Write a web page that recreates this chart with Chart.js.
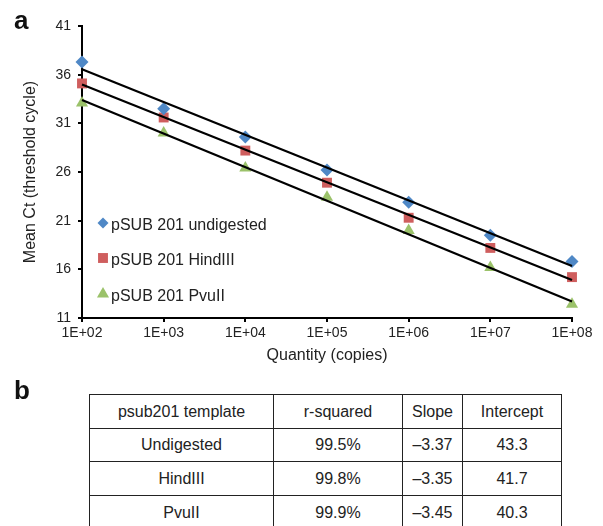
<!DOCTYPE html>
<html>
<head>
<meta charset="utf-8">
<script src="https://cdn.jsdelivr.net/npm/chart.js@4.4.1/dist/chart.umd.min.js"></script>
<style>
  html, body { margin:0; padding:0; background:#fff; width:603px; height:526px; overflow:hidden; font-family:"Liberation Sans", Arial, Helvetica, sans-serif; color:#222; }
  #wrap { position:absolute; left:0; top:0; width:603px; height:370px; }
  .panel { position:absolute; font-weight:bold; font-size:26px; color:#111; line-height:1; }
  #lblA { left:14px; top:7px; }
  #lblB { left:14px; top:377px; }
  table { position:absolute; left:89px; top:394px; border-collapse:collapse; font-size:16px; color:#222; }
  td { border:1px solid #222; text-align:center; vertical-align:middle; padding:0; height:33px; }
</style>
</head>
<body>
<div id="wrap"><canvas id="c"></canvas></div>
<div class="panel" id="lblA">a</div>
<div class="panel" id="lblB">b</div>
<table id="tbl"></table>
<script>
// ---- data ----
const xValues = [1e2, 1e3, 1e4, 1e5, 1e6, 1e7, 1e8];
const xTickLabels = ['1E+02', '1E+03', '1E+04', '1E+05', '1E+06', '1E+07', '1E+08'];
const undigested = [37.3, 32.5, 29.6, 26.2, 22.9, 19.5, 16.8];
const hindIII    = [35.1, 31.6, 28.2, 24.9, 21.3, 18.2, 15.2];
const pvuII      = [33.1, 30.0, 26.4, 23.4, 20.0, 16.2, 12.4];
const trendX = [1e2, 1e8];
const trendUndigested = [36.56, 16.35];
const trendHindIII    = [35.0, 14.9];
const trendPvuII      = [33.4, 12.7];
const seriesNames = ['pSUB 201 undigested', 'pSUB 201 HindIII', 'pSUB 201 PvuII'];
const yTicks = [11, 16, 21, 26, 31, 36, 41];
const tableHeader = ['psub201 template', 'r-squared', 'Slope', 'Intercept'];
const tableTemplates = ['Undigested', 'HindIII', 'PvuII'];
const tableRSquared = ['99.5%', '99.8%', '99.9%'];
const tableSlope = ['\u20133.37', '\u20133.35', '\u20133.45'];
const tableIntercept = ['43.3', '41.7', '40.3'];

// ---- table ----
const colWidths = [184, 129, 60, 99];
const rowHeights = [33, 32, 33, 33];
const tbl = document.getElementById('tbl');
function addRow(cells, h) {
  const tr = document.createElement('tr');
  cells.forEach((t, i) => {
    const td = document.createElement('td');
    td.textContent = t;
    td.style.width = (colWidths[i] - 1) + 'px';
    td.style.height = h + 'px';
    tr.appendChild(td);
  });
  tbl.appendChild(tr);
}
addRow(tableHeader, rowHeights[0]);
tableTemplates.forEach((t, i) => addRow([t, tableRSquared[i], tableSlope[i], tableIntercept[i]], rowHeights[i + 1]));

// ---- chart ----
const FONT = '"Liberation Sans", Arial, sans-serif';
const colors = ['#4F88C6', '#CF5E5E', '#9BC26A'];
const styles = ['rectRot', 'rect', 'triangle'];
const radii = [6.5, 7, 7];
const toPts = (ys) => ys.map((y, i) => ({x: xValues[i], y: y}));
const toTrend = (ys) => ys.map((y, i) => ({x: trendX[i], y: y}));

const datasets = [];
[undigested, hindIII, pvuII].forEach((s, k) => {
  datasets.push({
    label: seriesNames[k], type: 'scatter', data: toPts(s),
    backgroundColor: colors[k], borderColor: colors[k], borderWidth: 0,
    pointStyle: styles[k], pointRadius: radii[k], pointHoverRadius: radii[k],
    order: 2, clip: false
  });
});
[trendUndigested, trendHindIII, trendPvuII].forEach((s, k) => {
  datasets.push({
    label: 'trend' + k, type: 'line', data: toTrend(s),
    borderColor: '#000', borderWidth: 2.2, pointRadius: 0, fill: false,
    order: 1, clip: false, isTrend: true
  });
});

const legendPlugin = {
  id: 'insideLegend',
  afterDatasetsDraw(chart) {
    const ctx = chart.ctx;
    const a = chart.chartArea;
    const rows = [199, 234, 270];
    ctx.save();
    ctx.font = '16px ' + FONT;
    ctx.textBaseline = 'middle';
    ctx.textAlign = 'left';
    chart.data.datasets.forEach((ds, k) => {
      if (ds.isTrend) return;
      const y = a.top + rows[k];
      ctx.fillStyle = ds.backgroundColor;
      const r = k === 0 ? 5.5 : 7;
      Chart.helpers.drawPoint(ctx, {pointStyle: ds.pointStyle, radius: r, rotation: 0, borderWidth: 0}, a.left + 21, y - 2);
      ctx.fillStyle = '#222';
      ctx.fillText(ds.label, a.left + 29, y + 1);
    });
    ctx.restore();
  }
};

new Chart(document.getElementById('c'), {
  type: 'scatter',
  data: { datasets },
  plugins: [legendPlugin],
  options: {
    responsive: true, maintainAspectRatio: false, animation: false,
    layout: { padding: { left: 0, top: 26, right: 31, bottom: 0 } },
    plugins: { legend: { display: false }, tooltip: { enabled: false } },
    scales: {
      x: {
        type: 'logarithmic', min: 1e2, max: 1e8,
        afterBuildTicks: (sc) => { sc.ticks = xValues.map(v => ({value: v, major: true})); },
        afterFit: (sc) => { sc.height = 52; },
        ticks: {
          autoSkip: false, maxRotation: 0, padding: 3, color: '#222',
          font: { family: FONT, size: 14 },
          callback: (v) => { const i = xValues.indexOf(v); return i >= 0 ? xTickLabels[i] : ''; }
        },
        grid: { drawOnChartArea: false, drawTicks: true, tickLength: 4, color: '#000', lineWidth: 2 },
        border: { color: '#000', width: 2 },
        title: { display: true, text: 'Quantity (copies)', color: '#222', padding: { top: 0, bottom: 5 },
                 font: { family: FONT, size: 16 } }
      },
      y: {
        min: 11, max: 41,
        afterBuildTicks: (sc) => { sc.ticks = yTicks.map(v => ({value: v})); },
        afterFit: (sc) => { sc.width = 82; },
        ticks: { stepSize: 5, padding: 7, color: '#222',
                 font: { family: FONT, size: 14 } },
        grid: { drawOnChartArea: false, drawTicks: true, tickLength: 4, color: '#000', lineWidth: 2 },
        border: { color: '#000', width: 2 },
        title: { display: true, text: 'Mean Ct (threshold cycle)', color: '#222', padding: { top: 21, bottom: 0 },
                 font: { family: FONT, size: 16 } }
      }
    }
  }
});
</script>
</body>
</html>
